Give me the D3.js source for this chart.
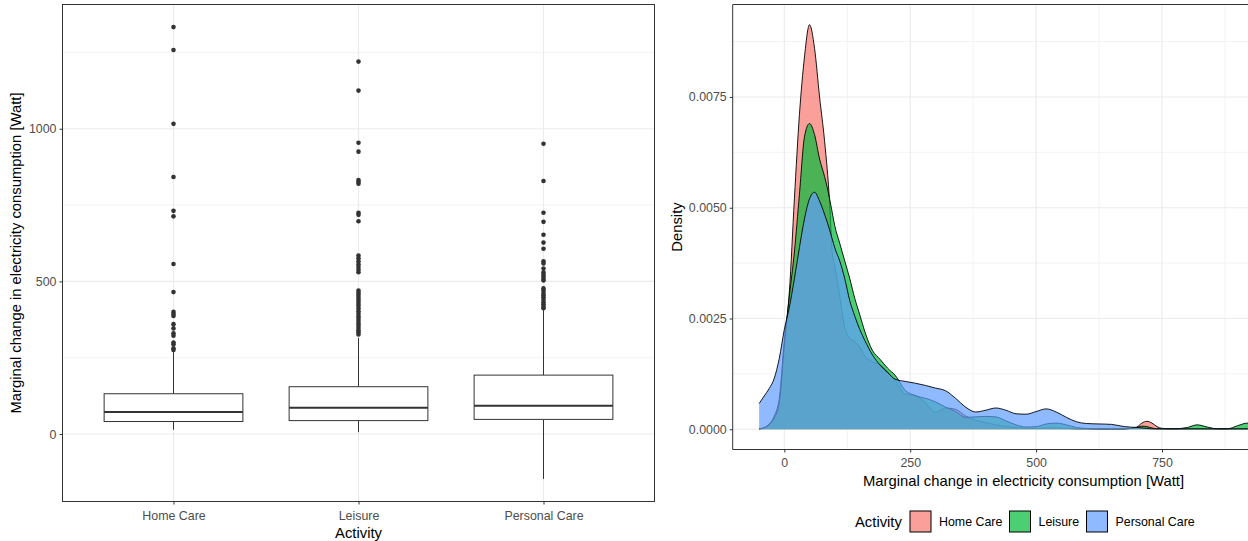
<!DOCTYPE html>
<html>
<head>
<meta charset="utf-8">
<script src="https://cdn.jsdelivr.net/npm/d3@7"></script>
<style>
  body { margin: 0; background: #fff; }
  text { font-family: "Liberation Sans", Arial, sans-serif; }
</style>
</head>
<body>
<svg id="chart" width="1248" height="541"></svg>
<script>
// categories and colours (ggplot hue)
const activities = ["Home Care", "Leisure", "Personal Care"];
const colors = ["#F8766D", "#00BA38", "#619CFF"];

// boxplot stats [lowWhisker, q1, median, q3, highWhisker]
const boxStats = [
  [14, 41, 72, 132, 268],
  [6, 44, 86, 155, 315],
  [-147, 48, 93, 193, 406],
];

const outHome = [1333, 1258, 1016, 842, 731, 713, 557, 465, 400, 393, 387, 360, 346, 330, 322, 300, 294, 281, 275];
const outLeisure = [1220, 1125, 954, 925, 832, 826, 820, 725, 718, 697, 585, 576, 566, 556, 547, 538, 530,
  470, 463, 456, 449, 441, 433, 426, 419, 411, 402, 394, 386, 378, 370, 362, 355, 347, 340, 333, 326];
const outPersonal = [951, 829, 725, 695, 653, 627, 607, 566, 559, 542, 530, 522, 515, 508, 503,
  477, 470, 462, 455, 448, 440, 432, 425, 418, 412];

// density curves
const densX = [-50, -40, -30, -20, -10, 0, 10, 20, 30, 40, 50, 60, 70, 80, 90, 95, 100, 110, 120, 130, 140, 150,
  160, 175, 190, 205, 220, 240, 260, 280, 300, 320, 340, 360, 380, 400, 420, 440, 460, 480, 500, 520, 540,
  560, 580, 600, 625, 650, 675, 700, 710, 720, 730, 740, 750, 775, 800, 820, 840, 860, 880, 900, 920, 940,
  960, 980, 1000];
const densHome = [0.00001, 0.00004, 0.00012, 0.0003, 0.0007, 0.002, 0.0031, 0.0052, 0.0071, 0.0084, 0.00913,
  0.0086, 0.0075, 0.0065, 0.0051, 0.004, 0.0037, 0.003, 0.0023, 0.00205, 0.00198, 0.00185, 0.00165, 0.00152,
  0.00145, 0.0013, 0.0011, 0.0008, 0.00076, 0.0006, 0.00038, 0.00048, 0.00045, 0.0003, 0.0002, 0.00015,
  0.0001, 0.00006, 0.00004, 0.00002, 0.00002, 0.00003, 0.00003, 0.00002, 0.00001, 0.00001, 0.00001,
  0.00001, 0.00001, 0.00005, 0.00014, 0.00018, 0.00014, 0.00006, 0.00002, 0.00001, 0.00001, 0.00001,
  0.00001, 0.00001, 0.00001, 0.00001, 0.00001, 0.00001, 0.00001, 0.00001, 0.00001];
const densLeisure = [0.00001, 0.00003, 0.0001, 0.00025, 0.0006, 0.0019, 0.003, 0.004, 0.0053, 0.0066, 0.0069,
  0.00665, 0.0061, 0.0057, 0.0052, 0.0049, 0.0046, 0.0042, 0.0038, 0.0034, 0.00295, 0.00258, 0.0022,
  0.00178, 0.00158, 0.00138, 0.00122, 0.00088, 0.00076, 0.0007, 0.00062, 0.0005, 0.0004, 0.00027, 0.00028,
  0.00029, 0.00028, 0.00019, 0.0001, 0.00005, 0.00006, 0.00012, 0.00014, 0.0001, 0.00004, 0.00002, 0.00001,
  0.00001, 0.00001, 0.00004, 0.00007, 0.00006, 0.00003, 0.00001, 0.00001, 0.00001, 0.00004, 0.0001,
  0.00005, 0.00001, 0.00001, 0.00008, 0.00014, 0.00012, 0.00006, 0.00002, 0.00001];
const densPersonal = [0.00058, 0.00075, 0.00092, 0.00115, 0.0016, 0.00225, 0.00275, 0.0034, 0.0041, 0.00475,
  0.0052, 0.00535, 0.00515, 0.00485, 0.0045, 0.0043, 0.0041, 0.0038, 0.0034, 0.0029, 0.00255, 0.00225,
  0.002, 0.00168, 0.00145, 0.00128, 0.00113, 0.00108, 0.00104, 0.00099, 0.00093, 0.00087, 0.0007, 0.0005,
  0.00039, 0.00043, 0.00048, 0.00043, 0.00035, 0.00034, 0.0004, 0.00046, 0.00039, 0.00027, 0.00017,
  0.00013, 0.00012, 0.00011, 0.00006, 0.00004, 0.00003, 0.00002, 0.00001, 0.00001, 0.00001, 0.00001,
  0.00001, 0.00001, 0.00001, 0.00001, 0.00001, 0.00001, 0.00001, 0.00001, 0.00001, 0.00001, 0.00001];

const boxTicks = [0, 500, 1000];
const boxMinor = [250, 750, 1250];
const densXTicks = [0, 250, 500, 750, 1000];
const densXLabels = [0, 250, 500, 750]; // 1000 falls outside the picture
const densXMinor = [125, 375, 625, 875];
const densYTicks = [0, 0.0025, 0.005, 0.0075];
const densYMinor = [0.00125, 0.00375, 0.00625, 0.00875];

const AXIS_TITLE = "Marginal change in electricity consumption [Watt]";
const GRID = "#EBEBEB";
const MINOR = "#F3F3F3";
const INK = "#333333";
const TICK_TXT = "#4D4D4D";
const TITLE_SIZE = "14.8px";
const TICK_SIZE = "12.4px";

var svg = d3.select("#chart");
svg.append("rect").attr("width", 1248).attr("height", 541).attr("fill", "#fff");

function expand(lo, hi) {
  let r = hi - lo;
  return [lo - 0.05 * r, hi + 0.05 * r];
}

//////// left: boxplot ////////
var L = { x0: 62.5, x1: 654.5, y0: 4.5, y1: 501.5 };
var outliers = [outHome, outLeisure, outPersonal];

var allVals = boxStats.flat().concat(outliers.flat());
var yBox = d3.scaleLinear().domain(expand(d3.min(allVals), d3.max(allVals))).range([L.y1, L.y0]);
var xBox = d3.scalePoint().domain(activities).range([L.x0, L.x1]).padding(0.6);
var boxW = xBox.step() * 0.75;

var gl = svg.append("g");

gl.selectAll("line.minor")
  .data(boxMinor)
  .enter()
  .append("line")
  .attr("x1", L.x0).attr("x2", L.x1)
  .attr("y1", (d) => yBox(d)).attr("y2", (d) => yBox(d))
  .attr("stroke", MINOR).attr("stroke-width", 1);

gl.selectAll("line.major")
  .data(boxTicks)
  .enter()
  .append("line")
  .attr("x1", L.x0).attr("x2", L.x1)
  .attr("y1", (d) => yBox(d)).attr("y2", (d) => yBox(d))
  .attr("stroke", GRID).attr("stroke-width", 1.1);

gl.selectAll("line.vmajor")
  .data(activities)
  .enter()
  .append("line")
  .attr("x1", (d) => xBox(d)).attr("x2", (d) => xBox(d))
  .attr("y1", L.y0).attr("y2", L.y1)
  .attr("stroke", GRID).attr("stroke-width", 1.1);

activities.forEach((a, i) => {
  let s = boxStats[i];
  let cx = xBox(a);
  let g = gl.append("g");

  g.append("line")
    .attr("x1", cx).attr("x2", cx)
    .attr("y1", yBox(s[3])).attr("y2", yBox(s[4]))
    .attr("stroke", INK).attr("stroke-width", 1);
  g.append("line")
    .attr("x1", cx).attr("x2", cx)
    .attr("y1", yBox(s[1])).attr("y2", yBox(s[0]))
    .attr("stroke", INK).attr("stroke-width", 1);

  g.append("rect")
    .attr("x", cx - boxW / 2)
    .attr("y", yBox(s[3]))
    .attr("width", boxW)
    .attr("height", yBox(s[1]) - yBox(s[3]))
    .attr("fill", "#fff")
    .attr("stroke", INK)
    .attr("stroke-width", 1);

  g.append("line")
    .attr("x1", cx - boxW / 2).attr("x2", cx + boxW / 2)
    .attr("y1", yBox(s[2])).attr("y2", yBox(s[2]))
    .attr("stroke", INK).attr("stroke-width", 2);

  g.selectAll("circle")
    .data(outliers[i])
    .enter()
    .append("circle")
    .attr("cx", cx)
    .attr("cy", (d) => yBox(d))
    .attr("r", 2.3)
    .attr("fill", INK);
});

gl.append("rect")
  .attr("x", L.x0).attr("y", L.y0)
  .attr("width", L.x1 - L.x0).attr("height", L.y1 - L.y0)
  .attr("fill", "none").attr("stroke", INK).attr("stroke-width", 1);

// axes
var axLeft = gl.append("g").attr("transform", `translate(${L.x0},0)`)
  .call(d3.axisLeft(yBox).tickValues(boxTicks).tickFormat(d3.format("d")).tickSize(3).tickPadding(3));
var axBottom = gl.append("g").attr("transform", `translate(0,${L.y1})`)
  .call(d3.axisBottom(xBox).tickSize(3).tickPadding(7));
[axLeft, axBottom].forEach((ax) => {
  ax.select(".domain").remove();
  ax.selectAll(".tick line").attr("stroke", INK);
  ax.selectAll(".tick text").attr("fill", TICK_TXT).style("font-size", TICK_SIZE);
});

gl.append("text")
  .attr("transform", `translate(21,${(L.y0 + L.y1) / 2}) rotate(-90)`)
  .attr("text-anchor", "middle")
  .style("font-size", TITLE_SIZE)
  .text(AXIS_TITLE);

gl.append("text")
  .attr("x", (L.x0 + L.x1) / 2).attr("y", 538)
  .attr("text-anchor", "middle")
  .style("font-size", TITLE_SIZE)
  .text("Activity");

//////// right: density ////////
var R = { x0: 732.7, y0: 4.5, y1: 449.5 };
var densSeries = [densHome, densLeisure, densPersonal];

var xDomain = expand(d3.min(densX), d3.max(densX));
var pxPerUnit = 0.5036;
R.x1 = R.x0 + (xDomain[1] - xDomain[0]) * pxPerUnit;

var xDens = d3.scaleLinear().domain(xDomain).range([R.x0, R.x1]);
var yDens = d3.scaleLinear().domain(expand(0, d3.max(densSeries.flat()))).range([R.y1, R.y0]);

var gr = svg.append("g");

svg.append("clipPath").attr("id", "dens-clip")
  .append("rect")
  .attr("x", R.x0).attr("y", R.y0)
  .attr("width", R.x1 - R.x0).attr("height", R.y1 - R.y0);

var grid = gr.append("g");
grid.selectAll("line.hmin")
  .data(densYMinor).enter().append("line")
  .attr("x1", R.x0).attr("x2", R.x1)
  .attr("y1", (d) => yDens(d)).attr("y2", (d) => yDens(d))
  .attr("stroke", MINOR).attr("stroke-width", 1);
grid.selectAll("line.vmin")
  .data(densXMinor).enter().append("line")
  .attr("x1", (d) => xDens(d)).attr("x2", (d) => xDens(d))
  .attr("y1", R.y0).attr("y2", R.y1)
  .attr("stroke", MINOR).attr("stroke-width", 1);
grid.selectAll("line.hmaj")
  .data(densYTicks).enter().append("line")
  .attr("x1", R.x0).attr("x2", R.x1)
  .attr("y1", (d) => yDens(d)).attr("y2", (d) => yDens(d))
  .attr("stroke", GRID).attr("stroke-width", 1.1);
grid.selectAll("line.vmaj")
  .data(densXTicks).enter().append("line")
  .attr("x1", (d) => xDens(d)).attr("x2", (d) => xDens(d))
  .attr("y1", R.y0).attr("y2", R.y1)
  .attr("stroke", GRID).attr("stroke-width", 1.1);

var area = d3.area()
  .x((d) => xDens(d[0]))
  .y0(yDens(0))
  .y1((d) => yDens(d[1]))
  .curve(d3.curveMonotoneX);
var upper = d3.line()
  .x((d) => xDens(d[0]))
  .y((d) => yDens(d[1]))
  .curve(d3.curveMonotoneX);

var marks = gr.append("g").attr("clip-path", "url(#dens-clip)");
densSeries.forEach((ys, i) => {
  let pts = densX.map((x, j) => [x, ys[j]]);
  marks.append("path")
    .attr("d", area(pts))
    .attr("fill", colors[i])
    .attr("fill-opacity", 0.7);
  marks.append("path")
    .attr("d", upper(pts))
    .attr("fill", "none")
    .attr("stroke", "#000")
    .attr("stroke-width", 0.9);
});

gr.append("path")
  .attr("d", `M${R.x1},${R.y0}H${R.x0}V${R.y1}H${R.x1}`)
  .attr("fill", "none").attr("stroke", INK).attr("stroke-width", 1);

var axDL = gr.append("g").attr("transform", `translate(${R.x0},0)`)
  .call(d3.axisLeft(yDens).tickValues(densYTicks).tickFormat(d3.format(".4f")).tickSize(3).tickPadding(3));
var axDB = gr.append("g").attr("transform", `translate(0,${R.y1})`)
  .call(d3.axisBottom(xDens).tickValues(densXLabels).tickFormat(d3.format("d")).tickSize(3).tickPadding(6));
[axDL, axDB].forEach((ax) => {
  ax.select(".domain").remove();
  ax.selectAll(".tick line").attr("stroke", INK);
  ax.selectAll(".tick text").attr("fill", TICK_TXT).style("font-size", TICK_SIZE);
});

gr.append("text")
  .attr("transform", `translate(682,${(R.y0 + R.y1) / 2}) rotate(-90)`)
  .attr("text-anchor", "middle")
  .style("font-size", TITLE_SIZE)
  .text("Density");

gr.append("text")
  .attr("x", (R.x0 + R.x1) / 2).attr("y", 486)
  .attr("text-anchor", "middle")
  .style("font-size", TITLE_SIZE)
  .text(AXIS_TITLE);

// legend
var legend = gr.append("g");
legend.append("text")
  .attr("x", 855).attr("y", 527)
  .style("font-size", TITLE_SIZE)
  .text("Activity");

var keyX = [910, 1009.5, 1086.5];
activities.forEach((a, i) => {
  legend.append("rect")
    .attr("x", keyX[i]).attr("y", 511)
    .attr("width", 21).attr("height", 21)
    .attr("fill", "#fff");
  legend.append("rect")
    .attr("x", keyX[i]).attr("y", 511)
    .attr("width", 21).attr("height", 21)
    .attr("fill", colors[i]).attr("fill-opacity", 0.7)
    .attr("stroke", "#000").attr("stroke-width", 1);
  legend.append("text")
    .attr("x", keyX[i] + 29).attr("y", 526)
    .style("font-size", TICK_SIZE)
    .text(a);
});
</script>
</body>
</html>
